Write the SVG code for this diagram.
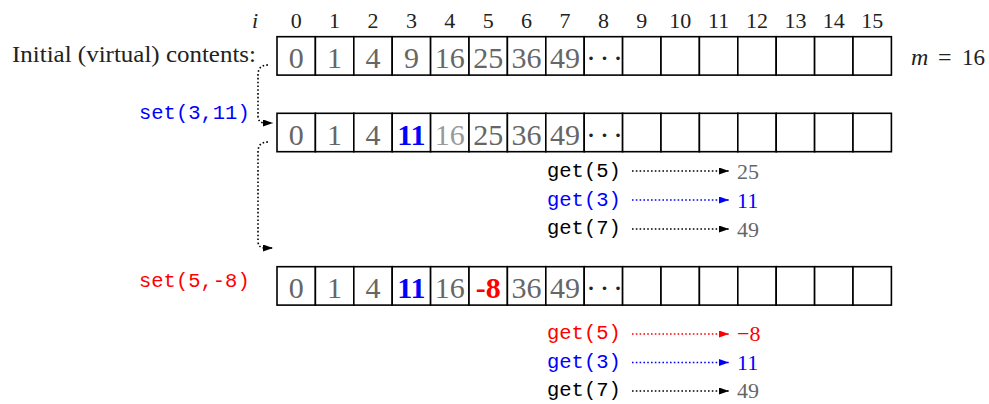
<svg xmlns="http://www.w3.org/2000/svg" width="989" height="404" viewBox="0 0 989 404">
<style>
  .cell { fill: #ffffff; stroke: #000000; stroke-width: 1.6; }
  .val { font-family: "Liberation Serif", serif; font-size: 30px; fill: #666666; text-anchor: middle; }
  .new { font-weight: bold; }
  .idx { font-family: "Liberation Serif", serif; font-size: 22px; fill: #222222; text-anchor: middle; }
  .serif { font-family: "Liberation Serif", serif; fill: #222222; }
  .mono { font-family: "Liberation Mono", monospace; font-size: 20.5px; }
  .res { font-family: "Liberation Serif", serif; font-size: 22px; }
  .ell { font-family: "Liberation Serif", serif; font-size: 30px; fill: #222222; letter-spacing: 3.5px; }
  .dot { fill: none; stroke-width: 1.6; stroke-dasharray: 1.6 2.2; }
  .k { stroke: #000000; }
  .b { stroke: #0000ff; }
  .r { stroke: #ff0000; }
  .tb { fill: #0000ff; }
  .tr { fill: #ff0000; }
  .tk { fill: #000000; }
  .tg { fill: #666666; }
  .tl { fill: #999999; }
</style>
<defs>
  <marker id="ak" markerUnits="userSpaceOnUse" markerWidth="10" markerHeight="7" refX="10" refY="3.5" orient="auto">
    <path d="M0,0 L10,3.5 L0,7 Z" fill="#000000"/>
  </marker>
  <marker id="ab" markerUnits="userSpaceOnUse" markerWidth="10" markerHeight="7" refX="10" refY="3.5" orient="auto">
    <path d="M0,0 L10,3.5 L0,7 Z" fill="#0000ff"/>
  </marker>
  <marker id="ar" markerUnits="userSpaceOnUse" markerWidth="10" markerHeight="7" refX="10" refY="3.5" orient="auto">
    <path d="M0,0 L10,3.5 L0,7 Z" fill="#ff0000"/>
  </marker>
  <g id="cells">
    <rect class="cell" x="277" y="0" width="38.4" height="38.4"/>
    <rect class="cell" x="315.4" y="0" width="38.4" height="38.4"/>
    <rect class="cell" x="353.8" y="0" width="38.4" height="38.4"/>
    <rect class="cell" x="392.2" y="0" width="38.4" height="38.4"/>
    <rect class="cell" x="430.6" y="0" width="38.4" height="38.4"/>
    <rect class="cell" x="469" y="0" width="38.4" height="38.4"/>
    <rect class="cell" x="507.4" y="0" width="38.4" height="38.4"/>
    <rect class="cell" x="545.8" y="0" width="38.4" height="38.4"/>
    <rect class="cell" x="584.2" y="0" width="38.4" height="38.4"/>
    <rect class="cell" x="622.6" y="0" width="38.4" height="38.4"/>
    <rect class="cell" x="661" y="0" width="38.4" height="38.4"/>
    <rect class="cell" x="699.4" y="0" width="38.4" height="38.4"/>
    <rect class="cell" x="737.8" y="0" width="38.4" height="38.4"/>
    <rect class="cell" x="776.2" y="0" width="38.4" height="38.4"/>
    <rect class="cell" x="814.6" y="0" width="38.4" height="38.4"/>
    <rect class="cell" x="853" y="0" width="38.4" height="38.4"/>
  </g>
</defs>

<g id="index-labels">
  <text class="serif" x="252" y="28" font-size="22" font-style="italic">i</text>
  <text class="idx" x="296.2" y="28">0</text>
  <text class="idx" x="334.6" y="28">1</text>
  <text class="idx" x="373" y="28">2</text>
  <text class="idx" x="411.4" y="28">3</text>
  <text class="idx" x="449.8" y="28">4</text>
  <text class="idx" x="488.2" y="28">5</text>
  <text class="idx" x="526.6" y="28">6</text>
  <text class="idx" x="565" y="28">7</text>
  <text class="idx" x="603.4" y="28">8</text>
  <text class="idx" x="641.8" y="28">9</text>
  <text class="idx" x="680.2" y="28">10</text>
  <text class="idx" x="718.6" y="28">11</text>
  <text class="idx" x="757" y="28">12</text>
  <text class="idx" x="795.4" y="28">13</text>
  <text class="idx" x="833.8" y="28">14</text>
  <text class="idx" x="872.2" y="28">15</text>
</g>

<g id="label-initial">
  <text class="serif" x="12" y="62" font-size="23" textLength="244" lengthAdjust="spacingAndGlyphs">Initial (virtual) contents:</text>
</g>

<g id="label-m">
  <text class="serif" x="911" y="65" font-size="24" font-style="italic">m</text>
  <text class="serif" x="938" y="65" font-size="24">=</text>
  <text class="serif" x="962" y="65" font-size="23">16</text>
</g>

<g id="array-initial">
  <use href="#cells" y="36.7"/>
  <text class="val" x="296.2" y="68">0</text>
  <text class="val" x="334.6" y="68">1</text>
  <text class="val" x="373" y="68">4</text>
  <text class="val" x="411.4" y="68">9</text>
  <text class="val" x="449.8" y="68">16</text>
  <text class="val" x="488.2" y="68">25</text>
  <text class="val" x="526.6" y="68">36</text>
  <text class="val" x="565" y="68">49</text>
  <text class="ell" x="586" y="68">···</text>
</g>

<g id="op-set-3-11">
  <text class="mono tb" x="139" y="119">set(3,11)</text>
</g>

<g id="array-after-set1">
  <use href="#cells" y="113.3"/>
  <text class="val" x="296.2" y="145">0</text>
  <text class="val" x="334.6" y="145">1</text>
  <text class="val" x="373" y="145">4</text>
  <text class="val new" x="411.4" y="145" style="fill:#0000ff">11</text>
  <text class="val" x="449.8" y="145" style="fill:#999999">16</text>
  <text class="val" x="488.2" y="145">25</text>
  <text class="val" x="526.6" y="145">36</text>
  <text class="val" x="565" y="145">49</text>
  <text class="ell" x="586" y="145">···</text>
</g>

<g id="gets-1">
  <text class="mono tk" x="547" y="177">get(5)</text>
  <text class="res tg" x="737" y="179">25</text>
  <text class="mono tb" x="547" y="206">get(3)</text>
  <text class="res tb" x="737" y="208">11</text>
  <text class="mono tk" x="547" y="234">get(7)</text>
  <text class="res tg" x="737" y="237">49</text>
</g>

<g id="op-set-5-m8">
  <text class="mono tr" x="139" y="287">set(5,-8)</text>
</g>

<g id="array-after-set2">
  <use href="#cells" y="266.7"/>
  <text class="val" x="296.2" y="298">0</text>
  <text class="val" x="334.6" y="298">1</text>
  <text class="val" x="373" y="298">4</text>
  <text class="val new" x="411.4" y="298" style="fill:#0000ff">11</text>
  <text class="val" x="449.8" y="298">16</text>
  <text class="val new" x="488.2" y="298" style="fill:#ff0000">-8</text>
  <text class="val" x="526.6" y="298">36</text>
  <text class="val" x="565" y="298">49</text>
  <text class="ell" x="586" y="298">···</text>
</g>

<g id="gets-2">
  <text class="mono tr" x="547" y="339">get(5)</text>
  <text class="res tr" x="737" y="341">−8</text>
  <text class="mono tb" x="547" y="368">get(3)</text>
  <text class="res tb" x="737" y="370">11</text>
  <text class="mono tk" x="547" y="396">get(7)</text>
  <text class="res tg" x="737" y="398">49</text>
</g>

<g id="connectors">
  <path class="dot k" d="M268,65 Q258,65 258,75 L258,116 Q258,123 265,123 L273,123" marker-end="url(#ak)"/>
  <path class="dot k" d="M268,142 Q258,142 258,152 L258,241 Q258,248 265,248 L273,248" marker-end="url(#ak)"/>
  <path class="dot k" d="M632,171 L729,171" marker-end="url(#ak)"/>
  <path class="dot b" d="M632,200 L729,200" marker-end="url(#ab)"/>
  <path class="dot k" d="M632,229 L729,229" marker-end="url(#ak)"/>
  <path class="dot r" d="M632,334 L729,334" marker-end="url(#ar)"/>
  <path class="dot b" d="M632,362.5 L729,362.5" marker-end="url(#ab)"/>
  <path class="dot k" d="M632,391 L729,391" marker-end="url(#ak)"/>
</g>
</svg>
